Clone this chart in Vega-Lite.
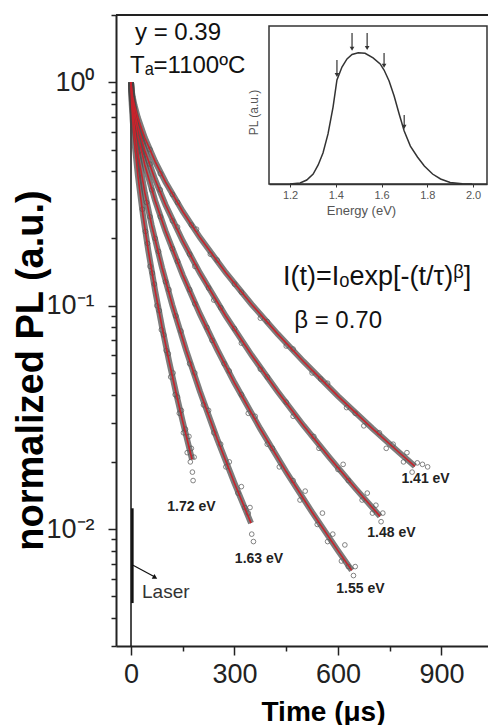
{
  "$schema": "https://vega.github.io/schema/vega-lite/v6.json",
  "width": 372,
  "height": 631,
  "autosize": "none",
  "padding": {"left": 116, "top": 15, "right": 0, "bottom": 79},
  "background": "white",
  "config": {"view": {"stroke": null}, "font": "Liberation Sans", "axis": {"grid": false}},
  "datasets": {
    "fit": [
      {"c":"1.72","t":0,"I":1},{"c":"1.72","t":2,"I":0.802},{"c":"1.72","t":5,"I":0.6726},{"c":"1.72","t":10,"I":0.5389},{"c":"1.72","t":20,"I":0.3816},{"c":"1.72","t":35,"I":0.2521},{"c":"1.72","t":50,"I":0.177},{"c":"1.72","t":70,"I":0.1167},{"c":"1.72","t":90,"I":0.0802},{"c":"1.72","t":110,"I":0.0568},{"c":"1.72","t":130,"I":0.0411},{"c":"1.72","t":150,"I":0.0303},{"c":"1.72","t":177,"I":0.0205},
      {"c":"1.63","t":0,"I":1},{"c":"1.63","t":2,"I":0.846},{"c":"1.63","t":5,"I":0.7404},{"c":"1.63","t":10,"I":0.626},{"c":"1.63","t":20,"I":0.4819},{"c":"1.63","t":40,"I":0.3206},{"c":"1.63","t":60,"I":0.2288},{"c":"1.63","t":90,"I":0.1478},{"c":"1.63","t":120,"I":0.1004},{"c":"1.63","t":160,"I":0.0631},{"c":"1.63","t":200,"I":0.0413},{"c":"1.63","t":250,"I":0.0253},{"c":"1.63","t":300,"I":0.01606},{"c":"1.63","t":348,"I":0.01064},
      {"c":"1.55","t":0,"I":1},{"c":"1.55","t":2,"I":0.8821},{"c":"1.55","t":5,"I":0.7982},{"c":"1.55","t":10,"I":0.7038},{"c":"1.55","t":20,"I":0.5785},{"c":"1.55","t":40,"I":0.4262},{"c":"1.55","t":70,"I":0.2952},{"c":"1.55","t":100,"I":0.2159},{"c":"1.55","t":150,"I":0.1371},{"c":"1.55","t":200,"I":0.0917},{"c":"1.55","t":250,"I":0.0636},{"c":"1.55","t":300,"I":0.0452},{"c":"1.55","t":375,"I":0.0281},{"c":"1.55","t":450,"I":0.01806},{"c":"1.55","t":525,"I":0.01191},{"c":"1.55","t":600,"I":0.00802},{"c":"1.55","t":640,"I":0.00654},
      {"c":"1.48","t":0,"I":1},{"c":"1.48","t":2,"I":0.902},{"c":"1.48","t":5,"I":0.8307},{"c":"1.48","t":10,"I":0.7489},{"c":"1.48","t":20,"I":0.6373},{"c":"1.48","t":40,"I":0.4955},{"c":"1.48","t":70,"I":0.3662},{"c":"1.48","t":100,"I":0.283},{"c":"1.48","t":150,"I":0.1948},{"c":"1.48","t":200,"I":0.1399},{"c":"1.48","t":275,"I":0.0897},{"c":"1.48","t":350,"I":0.06},{"c":"1.48","t":425,"I":0.0413},{"c":"1.48","t":500,"I":0.0291},{"c":"1.48","t":575,"I":0.02093},{"c":"1.48","t":650,"I":0.01527},{"c":"1.48","t":722,"I":0.01141},
      {"c":"1.41","t":0,"I":1},{"c":"1.41","t":2,"I":0.9194},{"c":"1.41","t":5,"I":0.8598},{"c":"1.41","t":10,"I":0.7903},{"c":"1.41","t":20,"I":0.6931},{"c":"1.41","t":40,"I":0.5647},{"c":"1.41","t":70,"I":0.4415},{"c":"1.41","t":100,"I":0.358},{"c":"1.41","t":150,"I":0.2641},{"c":"1.41","t":200,"I":0.2018},{"c":"1.41","t":275,"I":0.1405},{"c":"1.41","t":350,"I":0.1013},{"c":"1.41","t":425,"I":0.0748},{"c":"1.41","t":500,"I":0.0563},{"c":"1.41","t":600,"I":0.0394},{"c":"1.41","t":700,"I":0.0282},{"c":"1.41","t":775,"I":0.0222},{"c":"1.41","t":823,"I":0.0191}
    ],
    "obs": [
      {"c":"1.72","t":33,"I":0.27},{"c":"1.72","t":42,"I":0.215},{"c":"1.72","t":48,"I":0.19},{"c":"1.72","t":55,"I":0.15},{"c":"1.72","t":62,"I":0.14},{"c":"1.72","t":68,"I":0.125},{"c":"1.72","t":75,"I":0.1},{"c":"1.72","t":82,"I":0.095},{"c":"1.72","t":88,"I":0.078},{"c":"1.72","t":95,"I":0.074},{"c":"1.72","t":102,"I":0.063},{"c":"1.72","t":108,"I":0.061},{"c":"1.72","t":115,"I":0.048},{"c":"1.72","t":122,"I":0.05},{"c":"1.72","t":128,"I":0.04},{"c":"1.72","t":135,"I":0.039},{"c":"1.72","t":140,"I":0.033},{"c":"1.72","t":146,"I":0.034},{"c":"1.72","t":152,"I":0.027},{"c":"1.72","t":158,"I":0.028},{"c":"1.72","t":163,"I":0.022},{"c":"1.72","t":168,"I":0.026},{"c":"1.72","t":172,"I":0.02},{"c":"1.72","t":175,"I":0.023},{"c":"1.72","t":178,"I":0.018},{"c":"1.72","t":180,"I":0.0165},{"c":"1.72","t":183,"I":0.021},
      {"c":"1.63","t":45,"I":0.29},{"c":"1.63","t":55,"I":0.25},{"c":"1.63","t":70,"I":0.2},{"c":"1.63","t":80,"I":0.175},{"c":"1.63","t":100,"I":0.128},{"c":"1.63","t":110,"I":0.118},{"c":"1.63","t":130,"I":0.09},{"c":"1.63","t":145,"I":0.077},{"c":"1.63","t":170,"I":0.055},{"c":"1.63","t":185,"I":0.05},{"c":"1.63","t":210,"I":0.036},{"c":"1.63","t":225,"I":0.034},{"c":"1.63","t":240,"I":0.027},{"c":"1.63","t":260,"I":0.024},{"c":"1.63","t":275,"I":0.019},{"c":"1.63","t":285,"I":0.02},{"c":"1.63","t":310,"I":0.0145},{"c":"1.63","t":320,"I":0.0155},{"c":"1.63","t":330,"I":0.0125},{"c":"1.63","t":340,"I":0.0118},{"c":"1.63","t":345,"I":0.0125},{"c":"1.63","t":350,"I":0.0095},{"c":"1.63","t":355,"I":0.0088},
      {"c":"1.55","t":60,"I":0.33},{"c":"1.55","t":85,"I":0.25},{"c":"1.55","t":120,"I":0.18},{"c":"1.55","t":135,"I":0.158},{"c":"1.55","t":170,"I":0.118},{"c":"1.55","t":185,"I":0.102},{"c":"1.55","t":220,"I":0.08},{"c":"1.55","t":235,"I":0.07},{"c":"1.55","t":270,"I":0.055},{"c":"1.55","t":285,"I":0.051},{"c":"1.55","t":320,"I":0.04},{"c":"1.55","t":340,"I":0.033},{"c":"1.55","t":360,"I":0.032},{"c":"1.55","t":395,"I":0.024},{"c":"1.55","t":410,"I":0.023},{"c":"1.55","t":430,"I":0.019},{"c":"1.55","t":470,"I":0.0165},{"c":"1.55","t":490,"I":0.0135},{"c":"1.55","t":505,"I":0.0148},{"c":"1.55","t":540,"I":0.0105},{"c":"1.55","t":555,"I":0.0118},{"c":"1.55","t":570,"I":0.0088},{"c":"1.55","t":585,"I":0.0095},{"c":"1.55","t":610,"I":0.0072},{"c":"1.55","t":620,"I":0.0085},{"c":"1.55","t":630,"I":0.0068},{"c":"1.55","t":645,"I":0.0062},{"c":"1.55","t":650,"I":0.0068},
      {"c":"1.48","t":55,"I":0.43},{"c":"1.48","t":85,"I":0.33},{"c":"1.48","t":120,"I":0.24},{"c":"1.48","t":135,"I":0.225},{"c":"1.48","t":170,"I":0.17},{"c":"1.48","t":185,"I":0.15},{"c":"1.48","t":225,"I":0.12},{"c":"1.48","t":240,"I":0.106},{"c":"1.48","t":260,"I":0.098},{"c":"1.48","t":300,"I":0.079},{"c":"1.48","t":320,"I":0.068},{"c":"1.48","t":375,"I":0.052},{"c":"1.48","t":395,"I":0.048},{"c":"1.48","t":450,"I":0.037},{"c":"1.48","t":470,"I":0.032},{"c":"1.48","t":530,"I":0.026},{"c":"1.48","t":545,"I":0.023},{"c":"1.48","t":600,"I":0.0185},{"c":"1.48","t":615,"I":0.0195},{"c":"1.48","t":630,"I":0.0165},{"c":"1.48","t":670,"I":0.0135},{"c":"1.48","t":685,"I":0.0145},{"c":"1.48","t":700,"I":0.0118},{"c":"1.48","t":710,"I":0.0128},{"c":"1.48","t":725,"I":0.0108},{"c":"1.48","t":730,"I":0.0118},
      {"c":"1.41","t":55,"I":0.5},{"c":"1.41","t":85,"I":0.39},{"c":"1.41","t":120,"I":0.315},{"c":"1.41","t":135,"I":0.29},{"c":"1.41","t":175,"I":0.23},{"c":"1.41","t":190,"I":0.22},{"c":"1.41","t":230,"I":0.17},{"c":"1.41","t":250,"I":0.16},{"c":"1.41","t":300,"I":0.125},{"c":"1.41","t":320,"I":0.115},{"c":"1.41","t":375,"I":0.088},{"c":"1.41","t":395,"I":0.085},{"c":"1.41","t":450,"I":0.066},{"c":"1.41","t":470,"I":0.064},{"c":"1.41","t":525,"I":0.05},{"c":"1.41","t":550,"I":0.047},{"c":"1.41","t":570,"I":0.045},{"c":"1.41","t":625,"I":0.035},{"c":"1.41","t":650,"I":0.033},{"c":"1.41","t":675,"I":0.029},{"c":"1.41","t":720,"I":0.027},{"c":"1.41","t":740,"I":0.023},{"c":"1.41","t":760,"I":0.024},{"c":"1.41","t":790,"I":0.02},{"c":"1.41","t":800,"I":0.022},{"c":"1.41","t":815,"I":0.018},{"c":"1.41","t":830,"I":0.0198},{"c":"1.41","t":845,"I":0.0195},{"c":"1.41","t":860,"I":0.019}
    ],
    "spec": [
      {"E":1.2,"P":0},{"E":1.244,"P":0.008},{"E":1.273,"P":0.03},{"E":1.301,"P":0.076},{"E":1.323,"P":0.145},{"E":1.344,"P":0.236},{"E":1.366,"P":0.381},{"E":1.388,"P":0.586},{"E":1.405,"P":0.792},{"E":1.427,"P":0.891},{"E":1.449,"P":0.952},{"E":1.471,"P":0.986},{"E":1.498,"P":1.0},{"E":1.528,"P":0.995},{"E":1.563,"P":0.96},{"E":1.594,"P":0.914},{"E":1.611,"P":0.868},{"E":1.633,"P":0.784},{"E":1.655,"P":0.67},{"E":1.677,"P":0.533},{"E":1.699,"P":0.404},{"E":1.726,"P":0.289},{"E":1.757,"P":0.206},{"E":1.787,"P":0.137},{"E":1.823,"P":0.076},{"E":1.858,"P":0.038},{"E":1.9,"P":0.011},{"E":1.953,"P":0.002},{"E":1.996,"P":0}
    ]
  },
  "layer": [
    {
      "encoding": {
        "x": {"field": "t", "type": "quantitative",
          "scale": {"domain": [-43.5, 1035], "nice": false, "zero": false},
          "axis": {"values": [0, 150, 300, 450, 600, 750, 900], "format": "d",
            "labelExpr": "datum.value % 300 == 0 ? datum.label : ''",
            "labelFontSize": 27, "labelColor": "#222", "labelPadding": 6,
            "tickSize": {"condition": {"test": "datum.value % 300 == 0", "value": 9}, "value": 5},
            "tickWidth": 1.5, "tickColor": "#222", "domainColor": "#222", "domainWidth": 2,
            "title": "Time (μs)", "titleFontSize": 28, "titleFontWeight": "bold", "titleColor": "#000",
            "titleX": 207, "titleY": 74, "titleBaseline": "alphabetic", "titleAlign": "center", "titleAnchor": null}},
        "y": {"field": "I", "type": "quantitative",
          "scale": {"type": "log", "domain": [0.003, 2], "nice": false},
          "axis": {"values": [0.003,0.004,0.005,0.006,0.007,0.008,0.009,0.01,0.02,0.03,0.04,0.05,0.06,0.07,0.08,0.09,0.1,0.2,0.3,0.4,0.5,0.6,0.7,0.8,0.9,1,2],
            "labelExpr": "datum.value == 1 ? '10⁰' : datum.value == 0.1 ? '10⁻¹' : datum.value == 0.01 ? '10⁻²' : ''",
            "labelFontSize": 27, "labelColor": "#222", "labelPadding": 14,
            "tickSize": {"condition": {"test": "datum.value == 1 || datum.value == 0.1 || datum.value == 0.01", "value": 8}, "value": 5},
            "tickWidth": 1.5, "tickColor": "#222", "domainColor": "#222", "domainWidth": 2,
            "title": "normalized PL (a.u.)", "titleFontSize": 38, "titleFontWeight": "bold", "titleColor": "#000",
            "titleAngle": 270, "titleX": -74, "titleY": 355, "titleBaseline": "alphabetic", "titleAlign": "center", "titleAnchor": null}}
      },
      "layer": [
        {"data": {"values": [{"t": 0, "I": 1, "I2": 0.003}]}, "mark": {"type": "rule", "color": "#111", "strokeWidth": 1.5}, "encoding": {"y2": {"field": "I2"}}},
        {"data": {"values": [{"t": -43.5, "t2": 1035, "I": 2}]}, "mark": {"type": "rule", "color": "#222", "strokeWidth": 2}, "encoding": {"x2": {"field": "t2"}}},
        {"data": {"values": [{"t": 4, "I": 0.0124, "I2": 0.00467}]}, "mark": {"type": "rule", "color": "#111", "strokeWidth": 2.5}, "encoding": {"y2": {"field": "I2"}}},
        {"data": {"values": [{"t": 6, "I": 0.0069, "t2": 68, "I2": 0.00612}]}, "mark": {"type": "rule", "color": "#111", "strokeWidth": 1.2}, "encoding": {"x2": {"field": "t2"}, "y2": {"field": "I2"}}},
        {"data": {"values": [{"t": 70, "I": 0.00607}]}, "mark": {"type": "point", "shape": "triangle-right", "angle": 29.5, "size": 30, "filled": true, "color": "#111", "opacity": 1}},
        {"data": {"name": "fit"}, "mark": {"type": "line", "color": "#444", "strokeWidth": 6, "opacity": 0.7}, "encoding": {"detail": {"field": "c"}}},
        {"data": {"name": "obs"}, "mark": {"type": "point", "filled": false, "color": "#555", "size": 22, "strokeWidth": 0.8, "opacity": 0.9}, "encoding": {"detail": {"field": "c"}}},
        {"data": {"name": "fit"}, "mark": {"type": "line", "color": "#c8232c", "strokeWidth": 1.6}, "encoding": {"detail": {"field": "c"}}},
        {"data": {"values": [{"s": "1.72 eV", "t": 175, "I": 0.01254}, {"s": "1.63 eV", "t": 371, "I": 0.00734}, {"s": "1.55 eV", "t": 665, "I": 0.00539}, {"s": "1.48 eV", "t": 755, "I": 0.0096}, {"s": "1.41 eV", "t": 854, "I": 0.01675}]},
          "mark": {"type": "text", "fontSize": 14, "fontWeight": "bold", "color": "#222", "align": "center", "baseline": "middle"}, "encoding": {"text": {"field": "s"}}},
        {"data": {"values": [{"s": "y = 0.39", "t": 11.6, "I": 1.541}, {"s": "Tₐ=1100ºC", "t": -3, "I": 1.097}, {"s": "β = 0.70", "t": 473, "I": 0.0793}]},
          "mark": {"type": "text", "fontSize": 24, "color": "#111", "align": "left", "baseline": "alphabetic"}, "encoding": {"text": {"field": "s"}}},
        {"data": {"values": [{"s": "I(t)=Iₒexp[-(t/τ)ᵝ]", "t": 441, "I": 0.1235}]},
          "mark": {"type": "text", "fontSize": 27, "color": "#111", "align": "left", "baseline": "alphabetic"}, "encoding": {"text": {"field": "s"}}},
        {"data": {"values": [{"s": "Laser", "t": 32, "I": 0.00491}]},
          "mark": {"type": "text", "fontSize": 19, "color": "#333", "align": "left", "baseline": "alphabetic"}, "encoding": {"text": {"field": "s"}}}
      ]
    },
    {
      "encoding": {
        "x": {"field": "E", "type": "quantitative",
          "scale": {"domain": [1.108, 2.061], "range": [153, 371], "nice": false, "zero": false},
          "axis": {"orient": "bottom", "offset": -462, "values": [1.2, 1.4, 1.6, 1.8, 2.0], "format": ".1f",
            "labelFontSize": 11, "labelColor": "#555", "labelPadding": 2, "tickSize": 3, "tickColor": "#333",
            "domainColor": "#333", "domainWidth": 1.5, "zindex": 1,
            "title": "Energy (eV)", "titleFontSize": 13, "titleFontWeight": "normal", "titleColor": "#555",
            "titleX": 245, "titleY": 30, "titleBaseline": "alphabetic", "titleAlign": "center", "titleAnchor": null}},
        "y": {"field": "P", "type": "quantitative",
          "scale": {"domain": [0, 1.203], "range": [169, 11], "nice": false, "zero": false},
          "axis": {"orient": "right", "offset": -219, "labels": false, "ticks": false, "domain": false, "zindex": 1,
            "title": "PL (a.u.)", "titleFontSize": 12, "titleFontWeight": "normal", "titleColor": "#555",
            "titleAngle": 270, "titleX": -12, "titleY": 97, "titleBaseline": "alphabetic", "titleAlign": "center", "titleAnchor": null}}
      },
      "layer": [
        {"data": {"values": [{"E": 1.108, "E2": 2.061, "P": 0, "P2": 1.203}]}, "mark": {"type": "rect", "fill": "white", "stroke": "#333", "strokeWidth": 1.5}, "encoding": {"x2": {"field": "E2"}, "y2": {"field": "P2"}}},
        {"data": {"name": "spec"}, "mark": {"type": "line", "color": "#333", "strokeWidth": 1.5}},
        {"data": {"values": [{"E": 1.405, "P": 0.944, "P2": 0.83}, {"E": 1.471, "P": 1.15, "P2": 1.03}, {"E": 1.537, "P": 1.15, "P2": 1.035}, {"E": 1.611, "P": 0.998, "P2": 0.9}, {"E": 1.699, "P": 0.526, "P2": 0.435}]},
          "mark": {"type": "rule", "color": "#333", "strokeWidth": 1.2}, "encoding": {"y2": {"field": "P2"}}},
        {"data": {"values": [{"E": 1.405, "P": 0.83}, {"E": 1.471, "P": 1.03}, {"E": 1.537, "P": 1.035}, {"E": 1.611, "P": 0.9}, {"E": 1.699, "P": 0.435}]},
          "mark": {"type": "point", "shape": "triangle-down", "size": 22, "filled": true, "color": "#333", "opacity": 1}}
      ]
    }
  ],
  "resolve": {"scale": {"x": "independent", "y": "independent"}, "axis": {"x": "independent", "y": "independent"}}
}
